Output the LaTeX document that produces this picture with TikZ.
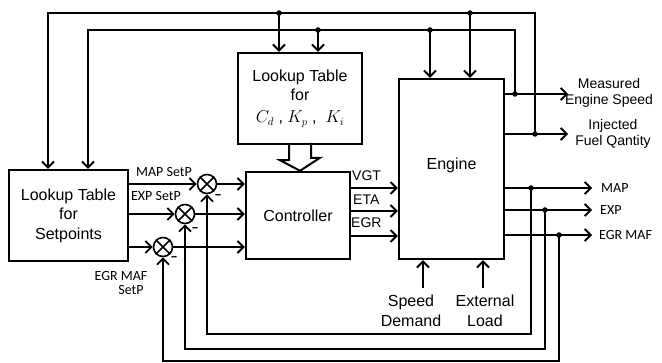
\documentclass[tikz,border=0pt]{standalone}
\usepackage{fontspec}
\setmainfont{Liberation Sans}
\newfontfamily\carl{Carlito}
\usetikzlibrary{arrows.meta,calc}
\begin{document}
\begin{tikzpicture}[x=1pt,y=-1pt,
  box/.style={draw,line width=2.4pt,inner sep=0pt},
  wire/.style={line width=1.9pt,line join=miter},
  arr/.style={wire,-{Straight Barb[length=6pt,width=12pt]}},
  dot/.style={circle,fill,inner sep=0pt,minimum size=5.5pt},
  sum/.style={draw,circle,line width=1.6pt,minimum size=19pt,inner sep=0pt},
  bt/.style={font=\fontsize{16}{19.5}\selectfont,align=center,inner sep=0pt},
  lbl/.style={font=\fontsize{14}{16}\selectfont,align=center,inner sep=0pt},
  cl/.style={font=\carl\fontsize{14}{15}\selectfont,inner sep=0pt},
  minus/.style={font=\carl\bfseries\fontsize{15}{15}\selectfont,inner sep=0pt},
  hollow/.style={line width=2pt,line join=miter}
]
\useasboundingbox (0,0) rectangle (662,363);

% boxes
\node[box,minimum width=119pt,minimum height=91pt,bt] (sp) at (68.5,215.5) {Lookup Table\\for\\Setpoints};
\node[box,minimum width=124pt,minimum height=91pt,bt] (lut) at (300,98.5) {Lookup Table\\for\\[2pt]$C_d$ , $K_p$ ,\ \ $K_i$};
\node[box,minimum width=104pt,minimum height=87pt,bt] (ctrl) at (298,215.5) {Controller};
\node[box,minimum width=105pt,minimum height=180pt] (eng) at (451.5,169) {};
\node[bt] (engt) at (451.5,165) {Engine};

% summing junctions
\node[sum] (s1) at (207,184) {};
\node[sum] (s2) at (185,214) {};
\node[sum] (s3) at (163,247) {};
\foreach \s in {s1,s2,s3}{
  \draw[line width=1.6pt] (\s.north west)--(\s.south east) (\s.north east)--(\s.south west);
}
\node[minus] (m1) at (218,197) {–};
\node[minus] (m2) at (195,230) {–};
\node[minus] (m3) at (174,259) {–};

% setpoint labels
\node[cl] (mapsp) at (164,172) {MAP SetP};
\node[cl] (expsp) at (156,196) {EXP SetP};
\node[cl] (egrsp1) at (121,276) {EGR MAF};
\node[cl] (egrsp2) at (131,290) {SetP};

% setpoints -> sums -> controller
\draw[arr] (sp.east |- s1) -- (s1);
\draw[arr] (sp.east |- s2) -- (s2);
\draw[arr] (sp.east |- s3) -- (s3);
\draw[arr] (s1) -- (ctrl.west |- s1);
\draw[arr] (s2) -- (ctrl.west |- s2);
\draw[arr] (s3) -- (ctrl.west |- s3);

% hollow arrow lookup -> controller
\draw[hollow] ($(lut.south)+(-11,0)$) -- ++(0,15) -- ++(-9,0) -- (lut.south |- ctrl.north) -- ++(20,-13) -- ++(-9,0) -- ++(0,-15);

% controller -> engine
\draw[arr] (ctrl.east |- 0,188) -- (eng.west |- 0,188);
\draw[arr] (ctrl.east |- 0,211) -- (eng.west |- 0,211);
\draw[arr] (ctrl.east |- 0,236) -- (eng.west |- 0,236);
\node[lbl,anchor=west] (vgt) at (352,176) {VGT};
\node[lbl,anchor=west] (eta) at (353,200) {ETA};
\node[lbl,anchor=west] (egr) at (351,223) {EGR};

% engine outputs (speed, fuel)
\coordinate (jSpd) at (515,94);
\coordinate (jInj) at (535,134);
\coordinate (tSpd) at (568,94);
\coordinate (tInj) at (568,134);
\draw[arr] (eng.east |- jSpd) -- (tSpd);
\draw[arr] (eng.east |- jInj) -- (tInj);
\node[lbl] (spd) at (609,93) {Measured\\Engine Speed};
\node[lbl] (inj) at (613,134) {Injected\\Fuel Qantity};

% top feedback wires
\coordinate (o1) at (535,13);
\coordinate (o2) at (48,13);
\coordinate (i1) at (515,30);
\coordinate (i2) at (88,30);
\draw[arr] (jInj) -- (o1) -- (o2) -- (o2 |- sp.north);
\draw[arr] (jSpd) -- (i1) -- (i2) -- (i2 |- sp.north);
\coordinate (b1) at (279,13);
\coordinate (b2) at (470,13);
\coordinate (b3) at (318,30);
\coordinate (b4) at (430,30);
\draw[arr] (b1) -- (b1 |- lut.north);
\draw[arr] (b3) -- (b3 |- lut.north);
\draw[arr] (b2) -- (b2 |- eng.north);
\draw[arr] (b4) -- (b4 |- eng.north);
\foreach \c in {jSpd,jInj,b1,b2,b3,b4}{\node[dot] at (\c) {};}

% engine outputs MAP, EXP, EGR MAF
\coordinate (jM) at (531,188);
\coordinate (jE) at (545,210);
\coordinate (jG) at (559,235);
\coordinate (tM) at (592,188);
\coordinate (tE) at (592,210);
\coordinate (tG) at (592,235);
\draw[arr] (eng.east |- jM) -- (tM);
\draw[arr] (eng.east |- jE) -- (tE);
\draw[arr] (eng.east |- jG) -- (tG);
\node[cl,anchor=west] (map) at (601,188) {MAP};
\node[cl,anchor=west] (exp) at (600,210) {EXP};
\node[cl,anchor=west] (egrmaf) at (599,235) {EGR MAF};

% bottom feedback
\coordinate (fM) at (531,334);
\coordinate (fE) at (545,349);
\coordinate (fG) at (559,361);
\draw[arr] (jM) -- (fM) -- (fM -| s1) -- (s1);
\draw[arr] (jE) -- (fE) -- (fE -| s2) -- (s2);
\draw[arr] (jG) -- (fG) -- (fG -| s3) -- (s3);
\foreach \c in {jM,jE,jG}{\node[dot] at (\c) {};}

% external inputs
\node[bt] (sd) at (411,311) {Speed\\Demand};
\node[bt] (el) at (485,311) {External\\Load};
\coordinate (sdA) at (423,288);
\coordinate (elA) at (483,288);
\draw[arr] (sdA) -- (sdA |- eng.south);
\draw[arr] (elA) -- (elA |- eng.south);
\end{tikzpicture}
\end{document}
